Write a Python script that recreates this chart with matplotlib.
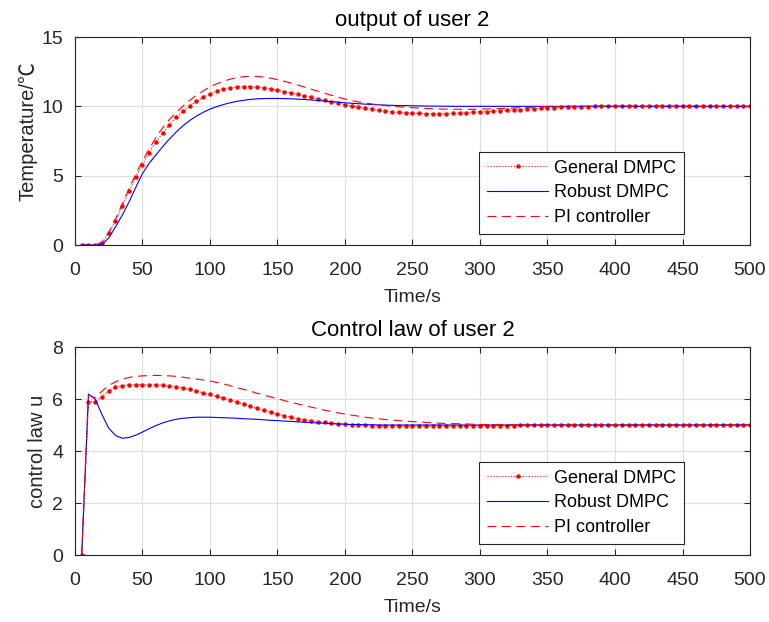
"""Two-panel response plot for user 2: output temperature and control law."""

import matplotlib
matplotlib.use("Agg")
import matplotlib.pyplot as plt
import numpy as np

plt.rcParams["font.family"] = ["Liberation Sans", "Noto Sans CJK SC", "DejaVu Sans"]

# sample times [s]
t = np.arange(5, 505, 5)

# --- output of user 2 (temperature) ---
y_general = [
    0, 0, 0, 0.17, 0.84, 1.75, 2.8, 3.88, 4.92, 5.8,
    6.67, 7.43, 8.08, 8.68, 9.21, 9.64, 10.02, 10.36, 10.66, 10.91,
    11.1, 11.25, 11.34, 11.4, 11.43, 11.43, 11.39, 11.34, 11.27, 11.17,
    11.07, 10.97, 10.87, 10.76, 10.65, 10.54, 10.43, 10.32, 10.22, 10.12,
    10.02, 9.95, 9.86, 9.78, 9.71, 9.65, 9.6, 9.56, 9.53, 9.51,
    9.49, 9.48, 9.47, 9.47, 9.48, 9.49, 9.51, 9.53, 9.56, 9.59,
    9.62, 9.65, 9.68, 9.71, 9.74, 9.77, 9.8, 9.82, 9.85, 9.87,
    9.9, 9.92, 9.94, 9.96, 9.97, 9.98, 9.99, 10.0, 10.01, 10.02,
    10.02, 10.03, 10.03, 10.03, 10.03, 10.03, 10.03, 10.03, 10.02, 10.02,
    10.02, 10.02, 10.01, 10.01, 10.01, 10.01, 10.0, 10.0, 10.0, 10.0,
]
y_robust = [
    0, 0, 0, 0.05, 0.5, 1.3, 2.15, 3.1, 4.15, 5.15,
    5.9, 6.5, 7.1, 7.65, 8.15, 8.6, 8.98, 9.3, 9.57, 9.8,
    9.98, 10.13, 10.26, 10.36, 10.44, 10.5, 10.54, 10.56, 10.57, 10.57,
    10.56, 10.54, 10.52, 10.49, 10.46, 10.42, 10.38, 10.34, 10.3, 10.26,
    10.22, 10.19, 10.16, 10.13, 10.11, 10.09, 10.07, 10.06, 10.05, 10.04,
    10.03, 10.02, 10.02, 10.01, 10.01, 10.0, 10.0, 10.0, 10.0, 10.0,
    10.0, 10.0, 10.0, 10.0, 10.0, 10.0, 10.0, 10.0, 10.0, 10.0,
    10.0, 10.0, 10.0, 10.0, 10.0, 10.0, 10.0, 10.0, 10.0, 10.0,
    10.0, 10.0, 10.0, 10.0, 10.0, 10.0, 10.0, 10.0, 10.0, 10.0,
    10.0, 10.0, 10.0, 10.0, 10.0, 10.0, 10.0, 10.0, 10.0, 10.0,
]
y_pi = [
    0, 0, 0, 0.2, 0.9, 1.85, 2.95, 4.05, 5.1, 6.05,
    6.95, 7.75, 8.45, 9.05, 9.55, 10.02, 10.43, 10.8, 11.12, 11.4,
    11.62, 11.81, 11.96, 12.07, 12.14, 12.17, 12.16, 12.11, 12.03, 11.93,
    11.81, 11.68, 11.54, 11.39, 11.24, 11.09, 10.94, 10.8, 10.66, 10.53,
    10.42, 10.32, 10.24, 10.17, 10.11, 10.06, 10.01, 9.97, 9.93, 9.9,
    9.87, 9.85, 9.83, 9.81, 9.8, 9.79, 9.79, 9.79, 9.79, 9.8,
    9.81, 9.82, 9.84, 9.86, 9.88, 9.9, 9.92, 9.94, 9.96, 9.97,
    9.98, 9.99, 10.0, 10.0, 10.01, 10.01, 10.01, 10.01, 10.01, 10.01,
    10.0, 10.0, 10.0, 10.0, 10.0, 10.0, 10.0, 10.0, 10.0, 10.0,
    10.0, 10.0, 10.0, 10.0, 10.0, 10.0, 10.0, 10.0, 10.0, 10.0,
]

# --- control law of user 2 ---
u_general = [
    0, 5.9, 5.9, 6.09, 6.32, 6.45, 6.51, 6.54, 6.55, 6.55,
    6.55, 6.55, 6.53, 6.5, 6.46, 6.42, 6.37, 6.31, 6.24, 6.18,
    6.1, 6.03, 5.96, 5.88, 5.8, 5.72, 5.64, 5.56, 5.49, 5.42,
    5.35, 5.3, 5.24, 5.2, 5.16, 5.13, 5.1, 5.07, 5.05, 5.03,
    5.01, 5.0, 4.99, 4.98, 4.97, 4.97, 4.96, 4.96, 4.96, 4.96,
    4.96, 4.96, 4.96, 4.96, 4.96, 4.96, 4.97, 4.97, 4.97, 4.97,
    4.97, 4.98, 4.98, 4.98, 4.98, 4.99, 4.99, 4.99, 4.99, 4.99,
    5.0, 5.0, 5.0, 5.0, 5.0, 5.0, 5.0, 5.0, 5.0, 5.0,
    5.0, 5.0, 5.0, 5.0, 5.0, 5.0, 5.0, 5.0, 5.0, 5.0,
    5.0, 5.0, 5.0, 5.0, 5.0, 5.0, 5.0, 5.0, 5.0, 5.0,
]
u_robust = [
    0, 6.19, 5.99, 5.4, 4.88, 4.6, 4.49, 4.52, 4.61, 4.73,
    4.86, 4.98, 5.08, 5.16, 5.22, 5.26, 5.28, 5.3, 5.3, 5.3,
    5.29, 5.28, 5.27, 5.26, 5.24, 5.23, 5.22, 5.2, 5.18, 5.17,
    5.15, 5.14, 5.12, 5.11, 5.09, 5.08, 5.07, 5.05, 5.04, 5.03,
    5.02, 5.02, 5.01, 5.01, 5.0, 5.0, 5.0, 5.0, 5.0, 5.0,
    5.0, 5.0, 5.0, 5.0, 5.0, 5.0, 5.0, 5.0, 5.0, 5.0,
    5.0, 5.0, 5.0, 5.0, 5.0, 5.0, 5.0, 5.0, 5.0, 5.0,
    5.0, 5.0, 5.0, 5.0, 5.0, 5.0, 5.0, 5.0, 5.0, 5.0,
    5.0, 5.0, 5.0, 5.0, 5.0, 5.0, 5.0, 5.0, 5.0, 5.0,
    5.0, 5.0, 5.0, 5.0, 5.0, 5.0, 5.0, 5.0, 5.0, 5.0,
]
u_pi = [
    0, 6.15, 6.05, 6.3, 6.52, 6.66, 6.76, 6.83, 6.87, 6.89,
    6.9, 6.91, 6.9, 6.89, 6.87, 6.84, 6.8, 6.77, 6.73, 6.69,
    6.64, 6.58, 6.51, 6.44, 6.37, 6.3, 6.22, 6.15, 6.08, 6.01,
    5.94, 5.87, 5.81, 5.75, 5.69, 5.63, 5.57, 5.52, 5.47, 5.42,
    5.38, 5.34, 5.3, 5.27, 5.24, 5.21, 5.19, 5.17, 5.15, 5.13,
    5.12, 5.1, 5.09, 5.07, 5.06, 5.05, 5.05, 5.04, 5.03, 5.02,
    5.02, 5.01, 5.01, 5.01, 5.01, 5.0, 5.0, 5.0, 5.0, 5.0,
    5.0, 5.0, 5.0, 5.0, 5.0, 5.0, 5.0, 5.0, 5.0, 5.0,
    5.0, 5.0, 5.0, 5.0, 5.0, 5.0, 5.0, 5.0, 5.0, 5.0,
    5.0, 5.0, 5.0, 5.0, 5.0, 5.0, 5.0, 5.0, 5.0, 5.0,
]

labels = ["General DMPC", "Robust DMPC", "PI controller"]
xticks = np.arange(0, 550, 50)

INK = "#262626"
GRID = "#dfdfdf"


def _style_axes(ax, ylim, yticks):
    ax.set_xlim(0, 500)
    ax.set_ylim(*ylim)
    ax.set_xticks(xticks)
    ax.set_yticks(yticks)
    ax.grid(True, color=GRID, lw=0.8)
    ax.set_axisbelow(True)
    ax.tick_params(direction="in", length=4.5, width=0.8, colors=INK,
                   labelsize=14, top=True, right=True)
    ax.tick_params(axis="x", pad=12.5)
    ax.tick_params(axis="y", pad=8.5)
    for sp in ax.spines.values():
        sp.set_color(INK)
        sp.set_linewidth(0.8)


def _draw(ax, gen, rob, pi):
    ax.plot(t, gen, ls=":", color="red", lw=0.8, marker="o", ms=3.2,
            mew=0, label=labels[0])
    ax.plot(t, rob, ls="-", color="blue", lw=0.8, label=labels[1])
    ax.plot(t, pi, ls=(0, (8, 5)), color="red", lw=0.8, label=labels[2])
    leg = ax.legend(loc="lower right", bbox_to_anchor=(0.902, 0.053),
                    fontsize=13, frameon=True, fancybox=False, framealpha=1,
                    edgecolor=INK, handlelength=3.4, handletextpad=0.3,
                    borderpad=0.45, labelspacing=0.42, borderaxespad=0,
                    numpoints=1)
    leg.get_frame().set_linewidth(0.8)


fig = plt.figure(figsize=(7.69, 6.22), dpi=100)
ax1 = fig.add_axes([0.0975, 0.6061, 0.8778, 0.3344])
ax2 = fig.add_axes([0.0975, 0.1077, 0.8778, 0.3344])

_draw(ax1, y_general, y_robust, y_pi)
_style_axes(ax1, (0, 15), [0, 5, 10, 15])
ax1.set_title("output of user 2", fontsize=16, color="black", pad=8)
ax1.set_xlabel("Time/s", fontsize=14, color=INK, labelpad=7)
ax1.set_ylabel("Temperature/", fontsize=14.5, color=INK, labelpad=2.5)

_draw(ax2, u_general, u_robust, u_pi)
_style_axes(ax2, (0, 8), [0, 2, 4, 6, 8])
ax2.set_title("Control law of user 2", fontsize=16, color="black", pad=8)
ax2.set_xlabel("Time/s", fontsize=14, color=INK, labelpad=7)
ax2.set_ylabel("control law u", fontsize=14.5, color=INK, labelpad=4)

# the degree-Celsius sign comes from the CJK face, stacked after the label
fig.canvas.draw()
bb = ax1.yaxis.label.get_window_extent()
W, H = fig.canvas.get_width_height()
fig.text((bb.x0 + bb.x1) / 2 / W, bb.y1 / H, "℃", rotation=90,
         ha="center", va="bottom", fontsize=15, color=INK,
         family=["Noto Sans CJK SC", "DejaVu Sans"])

fig.savefig("out.png", dpi=100)
plt.close(fig)
